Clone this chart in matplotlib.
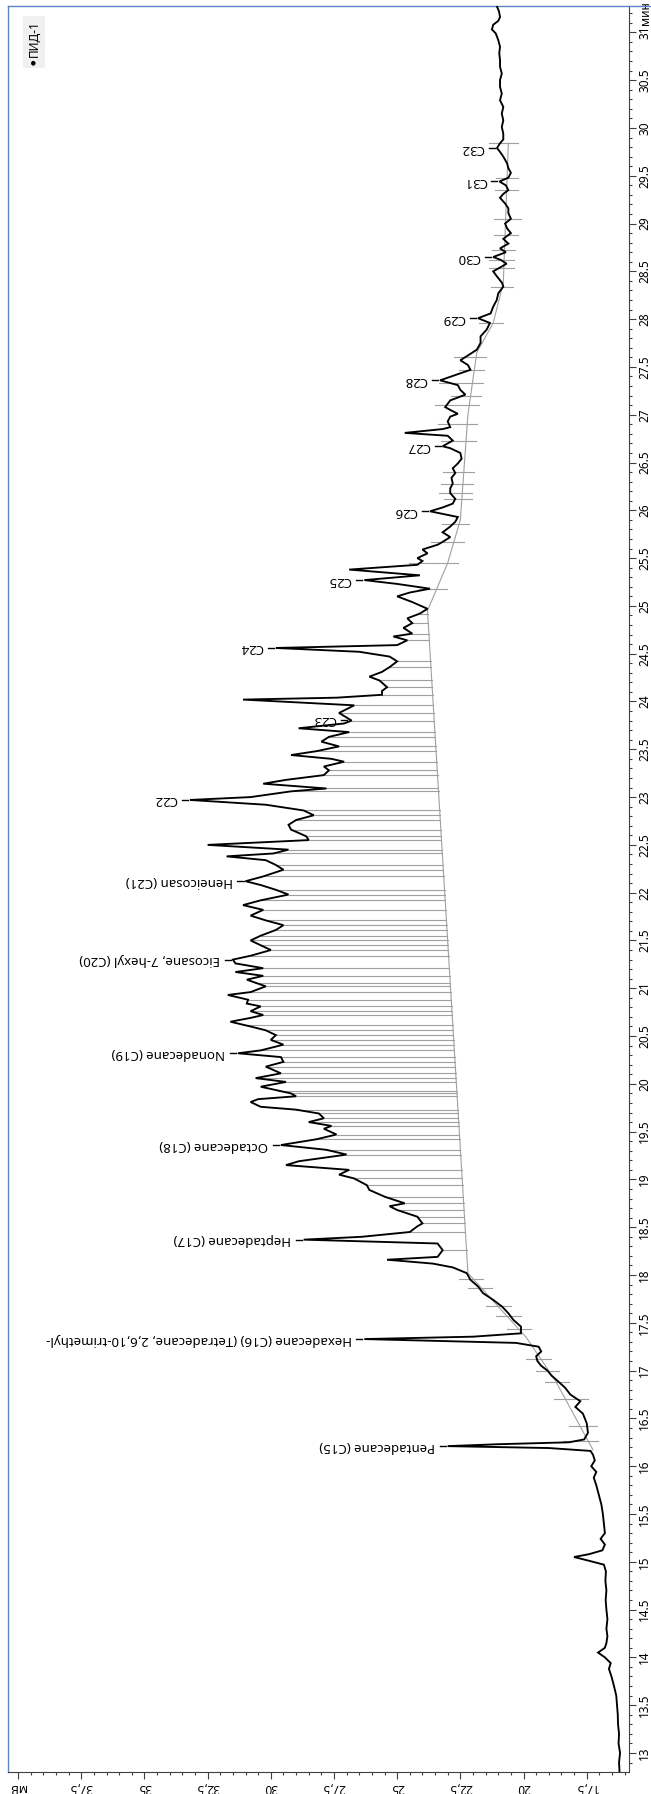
import matplotlib
matplotlib.use("Agg")
import matplotlib.pyplot as plt
import numpy as np
from matplotlib.ticker import MultipleLocator, FixedLocator, FuncFormatter
from matplotlib.lines import Line2D
import matplotlib.transforms as mtransforms

plt.rcParams['font.family'] = ['Noto Sans', 'DejaVu Sans']

# ---------------- data ----------------
time_min = [12.80, 12.90, 13.00, 13.10, 13.20, 13.30, 13.40, 13.50, 13.60, 13.70, 13.80, 13.88, 13.94,
            14.00, 14.05, 14.10, 14.15, 14.22, 14.30, 14.40, 14.50, 14.60, 14.70, 14.80, 14.90, 14.97,
            15.01, 15.05, 15.08, 15.12, 15.18, 15.24, 15.30, 15.40, 15.50, 15.60, 15.70, 15.80, 15.88,
            15.94, 16.00, 16.06, 16.12, 16.16, 16.19, 16.21, 16.23, 16.25, 16.28, 16.35, 16.45, 16.55,
            16.62, 16.68, 16.75, 16.82, 16.88, 16.95, 17.00, 17.05, 17.10, 17.15, 17.20, 17.25, 17.29,
            17.33, 17.355, 17.39, 17.46, 17.53, 17.60, 17.67, 17.74, 17.81, 17.88, 17.95, 18.02, 18.08,
            18.12, 18.16, 18.19, 18.26, 18.33, 18.37, 18.40, 18.45, 18.51, 18.54, 18.61, 18.68, 18.72,
            18.75, 18.82, 18.89, 18.94, 19.01, 19.05, 19.10, 19.15, 19.19, 19.26, 19.31, 19.36, 19.42,
            19.47, 19.53, 19.56, 19.60, 19.64, 19.69, 19.73, 19.76, 19.81, 19.84, 19.87, 19.90, 19.97,
            20.02, 20.06, 20.11, 20.18, 20.23, 20.28, 20.32, 20.35, 20.41, 20.46, 20.51, 20.56, 20.60,
            20.65, 20.69, 20.72, 20.76, 20.81, 20.84, 20.88, 20.93, 20.96, 21.02, 21.09, 21.13, 21.17,
            21.21, 21.26, 21.30, 21.34, 21.40, 21.45, 21.50, 21.55, 21.61, 21.66, 21.71, 21.76, 21.82,
            21.87, 21.92, 21.98, 22.03, 22.08, 22.12, 22.17, 22.24, 22.29, 22.34, 22.38, 22.41, 22.45,
            22.50, 22.55, 22.59, 22.66, 22.71, 22.76, 22.81, 22.86, 22.92, 22.97, 23.00, 23.06, 23.09,
            23.14, 23.18, 23.23, 23.28, 23.32, 23.37, 23.40, 23.44, 23.48, 23.53, 23.58, 23.63, 23.68,
            23.72, 23.77, 23.80, 23.88, 23.92, 23.96, 24.02, 24.04, 24.07, 24.11, 24.15, 24.22, 24.26,
            24.31, 24.36, 24.42, 24.47, 24.52, 24.56, 24.59, 24.64, 24.68, 24.71, 24.77, 24.82, 24.87,
            24.92, 24.97, 25.04, 25.10, 25.14, 25.18, 25.23, 25.27, 25.32, 25.38, 25.43, 25.47, 25.50,
            25.55, 25.59, 25.64, 25.67, 25.72, 25.77, 25.83, 25.88, 25.93, 25.99, 26.03, 26.07, 26.12,
            26.18, 26.23, 26.28, 26.34, 26.39, 26.44, 26.49, 26.54, 26.60, 26.65, 26.67, 26.73, 26.78,
            26.81, 26.85, 26.87, 26.93, 26.98, 27.01, 27.05, 27.08, 27.15, 27.21, 27.26, 27.31, 27.36,
            27.42, 27.47, 27.52, 27.57, 27.62, 27.68, 27.75, 27.82, 27.89, 27.96, 28.01, 28.06, 28.13,
            28.20, 28.27, 28.34, 28.38, 28.45, 28.50, 28.54, 28.58, 28.62, 28.65, 28.70, 28.74, 28.79,
            28.84, 28.90, 28.95, 29.00, 29.05, 29.11, 29.16, 29.21, 29.27, 29.31, 29.35, 29.40, 29.44,
            29.48, 29.53, 29.58, 29.63, 29.70, 29.75, 29.79, 29.84, 29.88, 29.94, 30.01, 30.08, 30.15,
            30.22, 30.29, 30.36, 30.43, 30.50, 30.57, 30.64, 30.71, 30.78, 30.85, 30.92, 30.99, 31.03,
            31.08, 31.12, 31.16, 31.22, 31.276]
signal_mv = [16.20, 16.22, 16.18, 16.24, 16.22, 16.26, 16.27, 16.30, 16.33, 16.42, 16.52, 16.62, 16.55,
             16.78, 17.05, 16.78, 16.72, 16.68, 16.72, 16.68, 16.72, 16.75, 16.72, 16.76, 16.74, 16.82,
             17.40, 18.00, 17.40, 16.88, 16.78, 16.95, 16.78, 16.82, 16.86, 16.92, 17.02, 17.12, 17.22,
             17.12, 17.32, 17.18, 17.25, 17.35, 19.00, 23.00, 21.00, 18.20, 17.60, 17.45, 17.50, 17.65,
             17.95, 17.75, 18.15, 18.35, 18.60, 18.90, 19.05, 19.30, 19.45, 19.50, 19.30, 19.40, 20.30,
             26.30, 22.00, 20.10, 20.10, 20.40, 20.60, 20.85, 21.20, 21.60, 21.80, 22.10, 22.25, 22.80,
             23.60, 25.40, 23.40, 23.20, 23.40, 28.70, 26.40, 24.50, 24.20, 24.00, 24.20, 25.00, 25.30,
             24.70, 25.50, 26.10, 26.20, 26.70, 27.30, 26.90, 29.40, 28.90, 27.00, 27.80, 29.60, 28.20,
             27.40, 27.90, 27.60, 28.50, 27.90, 28.10, 29.00, 30.40, 30.80, 30.50, 29.00, 29.20, 30.40,
             29.40, 30.60, 29.60, 30.20, 29.50, 29.60, 31.30, 30.40, 29.50, 30.00, 29.80, 30.20, 30.80,
             31.60, 30.80, 30.30, 30.80, 30.40, 30.95, 30.90, 31.70, 30.80, 30.20, 30.95, 30.30, 31.40,
             30.30, 31.40, 31.50, 30.80, 30.00, 30.40, 30.80, 30.40, 29.80, 29.50, 30.20, 30.80, 30.30,
             31.10, 30.40, 29.30, 29.80, 30.40, 31.00, 30.30, 29.50, 29.80, 30.20, 31.75, 29.90, 29.30,
             32.50, 28.50, 28.60, 29.20, 29.30, 29.00, 28.30, 28.70, 30.20, 33.20, 30.80, 29.20, 27.80,
             30.30, 29.40, 27.90, 27.70, 27.90, 27.10, 27.60, 29.20, 28.20, 27.30, 28.00, 27.70, 26.90,
             28.90, 27.10, 26.80, 27.30, 27.00, 26.70, 31.10, 27.40, 25.60, 25.60, 25.40, 25.70, 26.10,
             25.60, 25.30, 25.00, 25.30, 26.50, 29.80, 25.00, 24.60, 25.15, 24.40, 24.75, 24.40, 24.60,
             24.10, 23.80, 24.40, 25.00, 24.50, 23.70, 25.00, 26.30, 24.10, 26.90, 24.20, 24.00, 24.20,
             23.80, 24.00, 23.40, 23.20, 22.90, 23.20, 22.90, 22.70, 22.60, 23.70, 23.20, 22.80, 22.70,
             22.90, 22.90, 22.80, 22.85, 22.70, 22.80, 22.60, 22.45, 22.50, 22.90, 23.20, 22.80, 23.00,
             24.70, 23.20, 22.90, 23.00, 22.90, 22.60, 22.90, 23.10, 22.90, 22.30, 22.50, 22.60, 23.30,
             22.65, 22.10, 22.20, 22.50, 22.20, 21.85, 21.70, 21.70, 21.46, 21.33, 21.80, 21.30, 21.20,
             21.06, 21.00, 20.80, 20.85, 21.06, 21.20, 20.93, 20.67, 20.90, 21.20, 20.70, 20.93, 20.60,
             20.80, 20.50, 20.65, 20.73, 20.50, 20.60, 20.60, 20.73, 20.93, 20.80, 20.60, 20.70, 20.95,
             20.60, 20.50, 20.60, 20.65, 20.80, 20.93, 21.05, 20.93, 20.80, 20.80, 20.86, 20.80, 20.86,
             20.80, 20.93, 20.86, 20.93, 20.93, 20.86, 20.93, 20.93, 20.96, 20.93, 21.00, 21.10, 21.25,
             21.20, 21.00, 20.93, 20.97, 21.06]

baseline_t = [16.17, 16.90, 17.35, 18.02, 24.95, 25.45, 25.90, 27.00, 27.65, 27.96, 28.38, 29.84]
baseline_mv = [17.25, 18.75, 19.90, 22.20, 23.80, 23.00, 22.50, 22.20, 21.85, 21.20, 20.80, 20.60]

drop_times = [18.26, 18.45, 18.54, 18.61, 18.68, 18.75, 18.82, 18.94, 19.01, 19.10, 19.26, 19.31,
              19.42, 19.47, 19.56, 19.60, 19.64, 19.69, 19.73, 19.87, 19.90, 19.93, 20.02, 20.06,
              20.11, 20.18, 20.23, 20.28, 20.35, 20.41, 20.46, 20.51, 20.56, 20.62, 20.72, 20.76,
              20.81, 20.88, 20.96, 21.02, 21.06, 21.13, 21.21, 21.34, 21.40, 21.45, 21.50, 21.55,
              21.61, 21.66, 21.71, 21.82, 21.92, 21.98, 22.03, 22.17, 22.24, 22.29, 22.41, 22.45,
              22.55, 22.59, 22.66, 22.76, 22.81, 22.86, 23.06, 23.09, 23.23, 23.28, 23.37, 23.48,
              23.53, 23.63, 23.68, 23.80, 23.88, 23.96, 24.07, 24.15, 24.22, 24.36, 24.42, 24.64,
              24.71, 24.82, 24.92]
marker_times = [16.26, 16.42, 16.70, 16.88, 17.00, 17.12, 17.44, 17.57, 17.68, 17.86, 17.96,
                25.18, 25.45, 25.67, 25.86, 26.12, 26.18, 26.28, 26.40, 26.73, 26.90, 27.10,
                27.20, 27.33, 27.47, 27.60, 27.96, 28.34, 28.54, 28.62, 28.72, 28.88, 29.05,
                29.35, 29.48, 29.84]

peak_names = ["Pentadecane (C15)", "Hexadecane (C16) (Tetradecane, 2,6,10-trimethyl-",
              "Heptadecane (C17)", "Octadecane (C18)", "Nonadecane (C19)",
              "Eicosane, 7-hexyl (C20)", "Heneicosan (C21)", "C22", "C23", "C24", "C25",
              "C26", "C27", "C28", "C29", "C30", "C31", "C32"]
peak_times = [16.21, 17.33, 18.37, 19.36, 20.32, 21.30, 22.12, 22.97, 23.81, 24.56, 25.27,
              25.99, 26.67, 27.36, 28.01, 28.65, 29.44, 29.79]
peak_heights = [23.0, 26.3, 28.7, 29.6, 31.3, 31.5, 31.0, 33.2, 26.9, 29.8, 26.3,
                23.7, 23.2, 23.3, 21.8, 21.2, 20.95, 21.05]

mv_ticks = [40, 37.5, 35, 32.5, 30, 27.5, 25, 22.5, 20, 17.5]
mv_tick_labels = ["мВ", "37,5", "35", "32,5", "30", "27,5", "25", "22,5", "20", "17,5"]
legend_label = "ПИД-1"

# ---------------- figure ----------------
W, H = 651, 1794
fig = plt.figure(figsize=(W / 100, H / 100), dpi=100)
ax_l, ax_r, ax_t, ax_b = 8, 629, 6, 1771.7
ax = fig.add_axes([ax_l / W, 1 - ax_b / H, (ax_r - ax_l) / W, (ax_b - ax_t) / H])

gray = "#a0a0a0"
t_arr = np.array(time_min)
s_arr = np.array(signal_mv)

# baseline and peak boundary lines
ax.plot(baseline_mv, baseline_t, color=gray, lw=0.8, zorder=1)
for t in drop_times:
    tr = np.interp(t, t_arr, s_arr)
    b = np.interp(t, baseline_t, baseline_mv)
    ax.plot([b, tr], [t, t], color=gray, lw=0.8, zorder=1)
for t in marker_times:
    tr = np.interp(t, t_arr, s_arr)
    b = np.interp(t, baseline_t, baseline_mv)
    lo, hi = min(tr, b), max(tr, b)
    ax.plot([lo - 0.4, hi + 0.45], [t, t], color=gray, lw=0.8, zorder=1)

# chromatogram trace
ax.plot(signal_mv, time_min, color="black", lw=1.35, zorder=3, solid_joinstyle="miter")

# peak labels
for name, t, h in zip(peak_names, peak_times, peak_heights):
    ax.plot([h + 0.08, h + 0.32], [t, t], color="black", lw=1.0, zorder=3)
    ax.text(h + 0.5, t, name, rotation=180, ha="right", va="center",
            fontsize=9.5, color="black", zorder=4)

# axes limits
ax.set_xlim(40.40, 15.826)
ax.set_ylim(12.804, 31.276)

# x axis (mV) at bottom
ax.xaxis.set_major_locator(FixedLocator(mv_ticks))
ax.set_xticklabels(mv_tick_labels)
ax.xaxis.set_minor_locator(MultipleLocator(0.5))
ax.tick_params(axis="x", which="major", direction="out", length=5, width=0.8,
               color="#404040", labelsize=8.5, pad=1.5, labelrotation=180)
ax.tick_params(axis="x", which="minor", direction="out", length=2.5, width=0.8,
               color="#404040")

# y axis (time) at right
ax.yaxis.tick_right()
ax.yaxis.set_major_locator(MultipleLocator(0.5))
ax.yaxis.set_minor_locator(MultipleLocator(0.1))
ax.yaxis.set_major_formatter(FuncFormatter(lambda v, p: f"{v:g}"))
ax.tick_params(axis="y", which="major", direction="out", length=5, width=0.8,
               color="#404040", labelsize=8.5, pad=1.5)
ax.tick_params(axis="y", which="minor", direction="out", length=2.5, width=0.8,
               color="#404040")
for lab in ax.get_yticklabels():
    lab.set_rotation(90)
    lab.set_va("center")
    lab.set_ha("left")

trans = mtransforms.blended_transform_factory(ax.transAxes, ax.transData)
ax.text(1.0 + 9.5 / (ax_r - ax_l), 31.075, "мин", rotation=90, ha="left", va="bottom",
        fontsize=8.5, transform=trans, clip_on=False)

blue = "#5a86c8"
for side in ["left", "top"]:
    ax.spines[side].set_color(blue)
    ax.spines[side].set_linewidth(1.0)
for side in ["right", "bottom"]:
    ax.spines[side].set_color("#404040")
    ax.spines[side].set_linewidth(0.8)
fig.add_artist(Line2D([ax_r / W, 1.0], [1 - ax_t / H, 1 - ax_t / H], color=blue, lw=1.0))

# legend
fig.patches.append(plt.Rectangle((23 / W, 1 - 68 / H), 22 / W, 52 / H, transform=fig.transFigure,
                                 facecolor="#f0f0f0", edgecolor="none", zorder=0))
fig.text(34 / W, 1 - 62 / H, "●", fontsize=4.5, ha="center", va="center", rotation=90)
fig.text(34 / W, 1 - 57 / H, legend_label, fontsize=8.5, ha="center", va="bottom", rotation=90)

fig.savefig("out.png", dpi=100)
